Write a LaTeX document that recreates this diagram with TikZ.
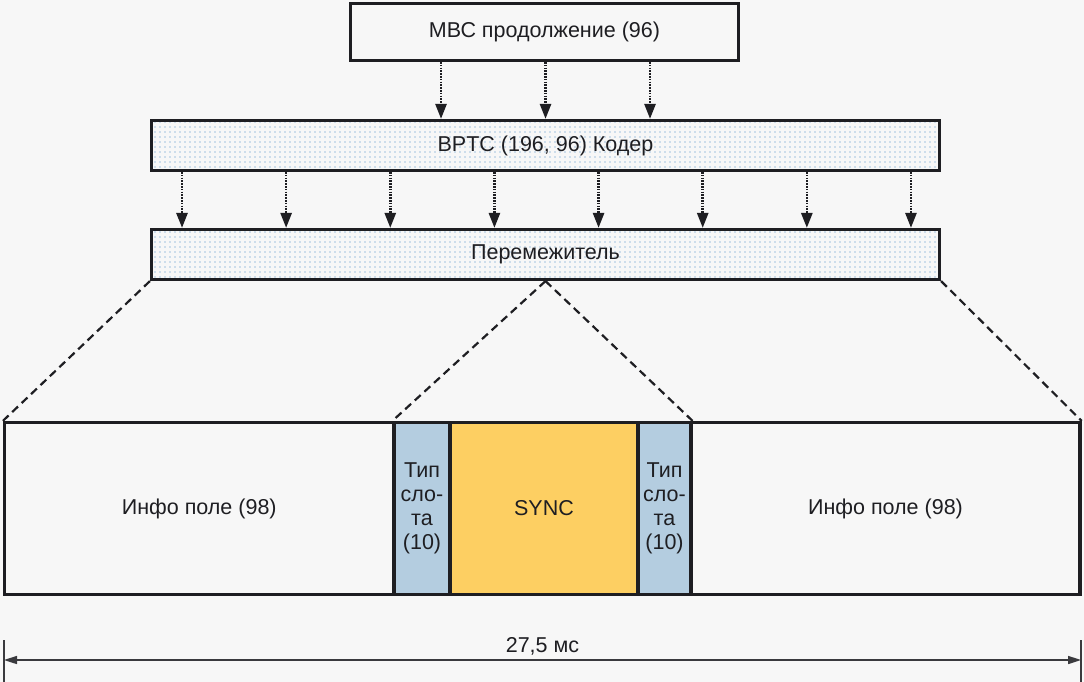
\documentclass[tikz,border=0pt]{standalone}
\usepackage{fontspec}
\setmainfont{Liberation Sans}
\usetikzlibrary{arrows.meta,patterns.meta,calc}
\definecolor{bgc}{HTML}{F7F7F7}
\definecolor{ink}{HTML}{1E1E22}
\definecolor{dotc}{HTML}{A4C4E0}
\definecolor{slotc}{HTML}{B4CDE0}
\definecolor{syncc}{HTML}{FDCF62}
\definecolor{dimc}{HTML}{3A3A3E}
\begin{document}
\begin{tikzpicture}[x=1pt,y=-1pt,
  lbl/.style={font=\fontsize{21.5}{24}\selectfont, text=ink},
  boxw/.style={draw=ink, line width=3.2pt, fill=bgc, inner sep=0pt, lbl},
  boxd/.style={draw=ink, line width=3.2pt, inner sep=0pt, lbl,
     preaction={fill=bgc},
     pattern={Dots[distance=5pt, radius=0.8pt]}, pattern color=dotc},
  cell/.style={draw=ink, line width=3.2pt, inner sep=0pt, lbl, align=center},
  darr/.style={draw=ink, line width=2.6pt, dash pattern=on 1.6pt off 1.2pt, -{Triangle[length=15pt,width=11pt]}},
  dashline/.style={draw=ink, line width=2.2pt, dash pattern=on 8pt off 5pt},
  dimline/.style={draw=dimc, line width=1.6pt},
]
\useasboundingbox (0,0) rectangle (1084,682);
\fill[bgc] (0,0) rectangle (1084,682);

% top boxes
\node[boxw, minimum width=388pt, minimum height=57pt] (mbc) at (544.5,32) {МВС продолжение (96)};
\node[boxd, minimum width=788pt, minimum height=50pt] (bptc) at (545.5,145.5) {BPTC (196, 96) Кодер};
\node[boxd, minimum width=788pt, minimum height=50pt] (intl) at (545.5,254.5) {Перемежитель};

% bottom frame
\node[cell, fill=bgc, minimum width=389.5pt, minimum height=172pt] (info1) at (199.25,508.5) {Инфо поле (98)};
\node[cell, fill=slotc, minimum width=56pt, minimum height=172pt] (slot1) at (422,508.5) {Тип\\сло-\\та\\(10)};
\node[cell, fill=syncc, minimum width=188pt, minimum height=172pt] (sync) at (544,508.5) {SYNC};
\node[cell, fill=slotc, minimum width=53pt, minimum height=172pt] (slot2) at (664.5,508.5) {Тип\\сло-\\та\\(10)};
\node[cell, fill=bgc, minimum width=389pt, minimum height=172pt] (info2) at (885.5,508.5) {Инфо поле (98)};

% arrows from MBC to BPTC
\foreach \i/\x in {1/441,2/545.5,3/650}{
  \coordinate (m\i) at (\x,62);
  \draw[darr] (m\i) -- (m\i |- bptc.north);
}
% arrows from BPTC to interleaver
\foreach \i in {0,...,7}{
  \coordinate (b\i) at ({182+104.14*\i},172);
  \draw[darr] (b\i) -- (b\i |- intl.north);
}

% dashed expansion lines
\coordinate (ic) at (intl.south);
\draw[dashline] (intl.south west) -- (info1.north west);
\draw[dashline] (ic) -- (slot1.north west);
\draw[dashline] (ic) -- (slot2.north east);
\draw[dashline] (intl.south east) -- (info2.north east);

% dimension line
\coordinate (dl1) at (4,640);
\coordinate (dl2) at (4,682);
\coordinate (dr1) at (1081,640);
\coordinate (dr2) at (1081,682);
\draw[dimline] (dl1) -- (dl2);
\draw[dimline] (dr1) -- (dr2);
\coordinate (da) at (4,660);
\coordinate (db) at (1081,660);
\draw[dimline, {Triangle[length=13pt,width=8pt]}-{Triangle[length=13pt,width=8pt]}] (da) -- (db)
  node[midway, lbl, above=1pt] (dimlbl) {27,5 мс};
\end{tikzpicture}
\end{document}
